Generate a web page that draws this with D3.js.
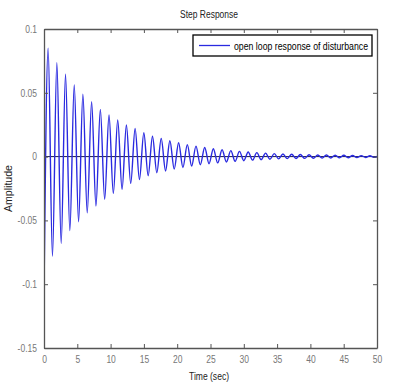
<!DOCTYPE html>
<html><head><meta charset="utf-8">
<script src="https://cdn.jsdelivr.net/npm/d3@7"></script>
<style>
html,body{margin:0;padding:0;background:#fff;}
svg{display:block;}
text{font-family:"Liberation Sans Narrow","Liberation Sans",Arial,sans-serif;}
</style></head>
<body>
<svg id="chart" width="413" height="386"></svg>
<script>
// ---- data ----
const title = "Step Response";
const xLabel = "Time (sec)";
const yLabel = "Amplitude";
const legendLabel = "open loop response of disturbance";
const xTicks = [0,5,10,15,20,25,30,35,40,45,50];
const yTicks = [0.1,0.05,0,-0.05,-0.1,-0.15];
const yTickLabels = ["0.1","0.05","0","-0.05","-0.1","-0.15"];
// starting point
const startTime = [0];
const startValue = [-0.107];
// peaks
const peakTimes = [0.62,1.93,3.23,4.54,5.84,7.15,8.46,9.76,11.07,12.37,13.68,14.99,16.29,17.60,18.90,20.21,21.52,22.82,24.13,25.43,26.74,28.05,29.35,30.66,31.96,33.27,34.58,35.88,37.19,38.49,39.80,41.11,42.41,43.72,45.02,46.33,47.64,48.94];
const peakValues = [0.085,0.0736,0.0645,0.0561,0.049,0.043,0.037,0.0326,0.0287,0.0248,0.022,0.0187,0.016,0.0143,0.0124,0.0108,0.0094,0.0082,0.0071,0.0062,0.0054,0.0047,0.0041,0.0036,0.0031,0.0027,0.0023,0.002,0.0018,0.0016,0.0014,0.0013,0.0012,0.0011,0.001,0.0009,0.0008,0.0007];
// troughs
const troughTimes = [1.27,2.58,3.88,5.19,6.49,7.80,9.11,10.41,11.72,13.02,14.33,15.64,16.94,18.25,19.55,20.86,22.17,23.47,24.78,26.08,27.39,28.70,30.00,31.31,32.61,33.92,35.23,36.53,37.84,39.14,40.45,41.76,43.06,44.37,45.67,46.98,48.29,49.59];
const troughValues = [-0.078,-0.068,-0.058,-0.051,-0.044,-0.0387,-0.0335,-0.0288,-0.0256,-0.021,-0.018,-0.015,-0.0126,-0.0112,-0.0098,-0.0085,-0.0074,-0.0064,-0.0056,-0.0049,-0.0042,-0.0037,-0.0032,-0.0028,-0.0024,-0.0021,-0.0018,-0.0016,-0.0015,-0.0014,-0.0013,-0.0012,-0.0011,-0.001,-0.0009,-0.0008,-0.0007,-0.0006];
const endTime = [50];
const endValue = [0.0002];

// ---- build series ----
let pts = [{t:startTime[0], v:startValue[0]}];
for (let i=0;i<peakTimes.length;i++){
  pts.push({t:peakTimes[i], v:peakValues[i]});
  if (i<troughTimes.length) pts.push({t:troughTimes[i], v:troughValues[i]});
}
pts.push({t:endTime[0], v:endValue[0]});
pts.sort((a,b)=>a.t-b.t);

const svg = d3.select("#chart");
const m = {l:44, r:36, t:29, b:38};
const W = 413, H = 386;
const x = d3.scaleLinear().domain([0,50]).range([m.l, W-m.r]);
const y = d3.scaleLinear().domain([-0.15,0.1]).range([H-m.b, m.t]);

const axisColor = "#555";
const labelColor = "#777";
const lineColor = "#2a2ae0";

// zero line
svg.append("line").attr("x1",x(0)).attr("x2",x(50)).attr("y1",y(0)).attr("y2",y(0))
  .attr("stroke","#1a1a40").attr("stroke-width",1);

// curve
svg.append("clipPath").attr("id","clip").append("rect")
  .attr("x",x(0)).attr("y",y(0.1)).attr("width",x(50)-x(0)).attr("height",y(-0.15)-y(0.1));
svg.append("path").datum(pts)
  .attr("clip-path","url(#clip)")
  .attr("fill","none").attr("stroke",lineColor).attr("stroke-width",1.4)
  .attr("d", d3.line().x(d=>x(d.t)).y(d=>y(d.v)).curve(d3.curveMonotoneX));

// axes (MATLAB-like box with inward ticks)
const tl = 4;
const axB = d3.axisBottom(x).tickValues(xTicks).tickSizeInner(-tl).tickSizeOuter(0).tickPadding(8).tickFormat(d3.format("d"));
const axT = d3.axisTop(x).tickValues(xTicks).tickSizeInner(-tl).tickSizeOuter(0).tickFormat("");
const axL = d3.axisLeft(y).tickValues(yTicks).tickSizeInner(-tl).tickSizeOuter(0).tickPadding(7).tickFormat((d,i)=>yTickLabels[i]);
const axR = d3.axisRight(y).tickValues(yTicks).tickSizeInner(-tl).tickSizeOuter(0).tickFormat("");

function condense(sel, f){
  sel.each(function(){
    const len = this.getComputedTextLength();
    d3.select(this).attr("textLength", len*f).attr("lengthAdjust","spacingAndGlyphs");
  });
}
function styleAxis(g){
  g.select(".domain").attr("stroke",axisColor).attr("stroke-width",1.3);
  g.selectAll(".tick line").attr("stroke",axisColor);
  g.selectAll(".tick text").attr("fill",labelColor).attr("font-size",10)
    .attr("font-family",'"Liberation Sans Narrow","Liberation Sans",Arial,sans-serif')
    .call(condense, 0.85);
}
svg.append("g").attr("transform",`translate(0,${y(-0.15)})`).call(axB).call(styleAxis);
svg.append("g").attr("transform",`translate(0,${y(0.1)})`).call(axT).call(styleAxis);
svg.append("g").attr("transform",`translate(${x(0)},0)`).call(axL).call(styleAxis);
svg.append("g").attr("transform",`translate(${x(50)},0)`).call(axR).call(styleAxis);

// titles
svg.append("text").attr("x",209).attr("y",18).attr("text-anchor","middle")
  .attr("font-size",10).attr("fill","#222").attr("textLength",58).attr("lengthAdjust","spacingAndGlyphs").text(title);
svg.append("text").attr("x",209).attr("y",380).attr("text-anchor","middle")
  .attr("font-size",10).attr("fill","#222").attr("textLength",40).attr("lengthAdjust","spacingAndGlyphs").text(xLabel);
svg.append("text").attr("transform",`translate(12,${(y(0.1)+y(-0.15))/2}) rotate(-90)`)
  .attr("text-anchor","middle").attr("font-size",10).attr("fill","#222")
  .attr("textLength",47).attr("lengthAdjust","spacingAndGlyphs").text(yLabel);

// legend
const lg = svg.append("g");
lg.append("rect").attr("x",193).attr("y",35).attr("width",179).attr("height",21)
  .attr("fill","#fff").attr("stroke","#000").attr("stroke-width",1.3);
lg.append("line").attr("x1",199).attr("x2",230).attr("y1",45.5).attr("y2",45.5)
  .attr("stroke",lineColor).attr("stroke-width",1.3);
lg.append("text").attr("x",234).attr("y",49.5).attr("font-size",10).attr("fill","#000")
  .attr("textLength",134).attr("lengthAdjust","spacingAndGlyphs").text(legendLabel);
</script>
</body></html>
